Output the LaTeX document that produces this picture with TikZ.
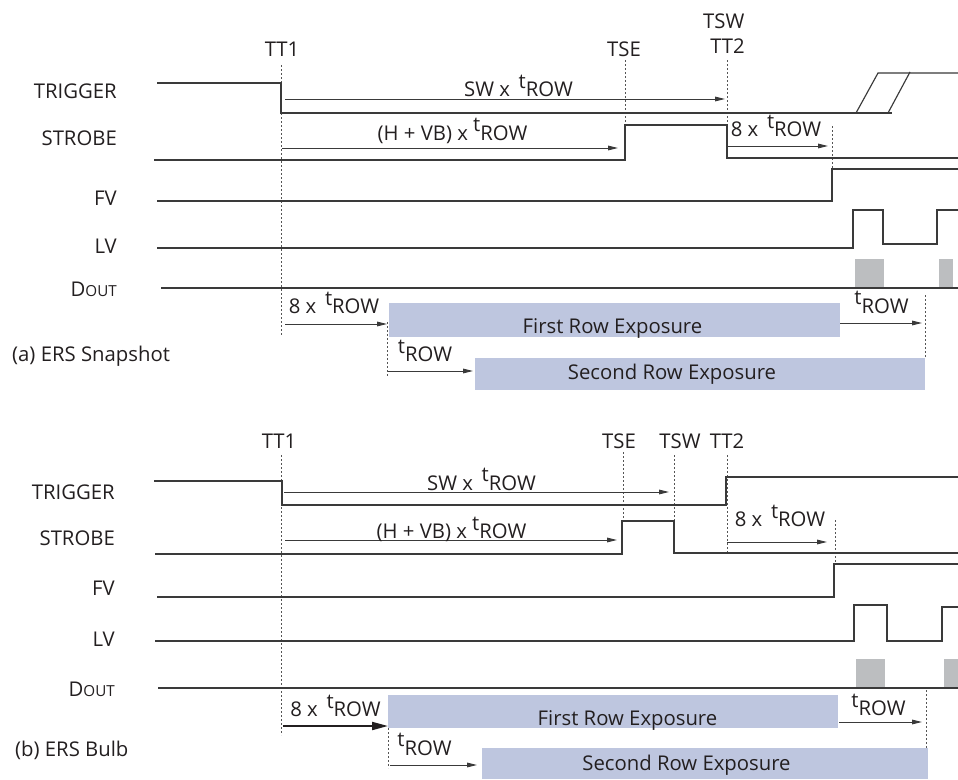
\documentclass[tikz,border=0pt]{standalone}
\usepackage{fontspec}
\setmainfont{Open Sans}
\usetikzlibrary{arrows.meta}
\definecolor{txt}{HTML}{231F20}
\definecolor{linec}{HTML}{3A3A3A}
\definecolor{dashc}{HTML}{555555}
\definecolor{boxfill}{HTML}{BEC6DF}
\definecolor{greyblk}{HTML}{BCBEC0}
\newcommand\lblfont{\fontsize{20.3}{24}\selectfont}
\newcommand\tRowTxt{\raisebox{0.4em}{t}ROW}
\newcommand\DoutTxt{D{\fontsize{15.2}{18}\selectfont OUT}}
\tikzset{
  every node/.style={font=\lblfont, inner sep=0pt, text=txt},
  sig/.style={line width=1.15pt, draw=linec, line join=miter},
  tickline/.style={line width=0.9pt, draw=dashc, dash pattern=on 2pt off 2pt},
  dim/.style={line width=1pt, draw=linec, -{Triangle[length=10pt,width=4.6pt]}},
  dimbold/.style={line width=2pt, draw=txt, -{Triangle[length=16pt,width=8pt]}},
  expbox/.style={fill=boxfill, draw=none},
  dblk/.style={fill=greyblk, draw=none},
  siglbl/.style={anchor=base east},
  tlbl/.style={anchor=base},
}
\begin{document}
\begin{tikzpicture}[x=1pt,y=-1pt]
\useasboundingbox (0,0) rectangle (958,779);
\fill[white] (0,0) rectangle (958,779);

%%%%%%%%%%%% (a) ERS Snapshot %%%%%%%%%%%%
\fill[expbox] (389,303) rectangle (840,337);
\fill[expbox] (475,358) rectangle (925,390);
\fill[dblk] (855,259) rectangle (884,288);
\fill[dblk] (939,259) rectangle (953,288);

\draw[tickline] (281,65) -- (281,335);
\draw[tickline] (625,60) -- (625,125);
\draw[tickline] (727,60) -- (727,158);
\draw[tickline] (832,126) -- (832,175);
\draw[tickline] (387,322) -- (387,377);
\draw[tickline] (925,295) -- (925,358);

\draw[sig] (157,83) -- (281,83) -- (281,113) -- (892,113);
\draw[sig] (856,113) -- (878,73) -- (958,73);
\draw[sig] (888,113) -- (910,72);
\draw[sig] (154,160) -- (625,160) -- (625,125) -- (727,125) -- (727,158) -- (958,158);
\draw[sig] (157,201) -- (832,201) -- (832,169) -- (958,169);
\draw[sig] (157,248) -- (853,248) -- (853,210) -- (883,210) -- (883,244) -- (937,244) -- (937,210) -- (958,210);
\draw[sig] (161,288) -- (958,288);

\draw[dim] (285,99) -- (725,99);
\draw[dim] (282,148) -- (618,148);
\draw[dim] (728,146) -- (828,146);
\draw[dim] (285,324) -- (387,324);
\draw[dim] (388,371) -- (473,371);
\draw[dim] (840,323) -- (922,323);

\node[siglbl] (aTrig) at (117,98.3) {TRIGGER};
\node[siglbl] (aStrobe) at (117,145) {STROBE};
\node[siglbl] (aFV) at (117,205) {FV};
\node[siglbl] (aLV) at (117,253.3) {LV};
\node[siglbl] (aDout) at (117,296.7) {\DoutTxt};
\node[anchor=base west] (aCap) at (12,361.7) {(a) ERS Snapshot};
\node[tlbl] (aTT1) at (282,56.7) {TT1};
\node[tlbl] (aTSE) at (624,56.7) {TSE};
\node[tlbl] (aTSW) at (723.8,28.3) {TSW};
\node[tlbl] (aTT2) at (727.5,53.3) {TT2};
\node[tlbl] (aSW) at (518.5,96.7) {SW x\, \tRowTxt};
\node[tlbl] (aHVB) at (452.5,140) {(H + VB) x \tRowTxt};
\node[tlbl] (a8b) at (776,136.7) {8 x\, \tRowTxt};
\node[tlbl] (a8a) at (334,313.3) {8 x\, \tRowTxt};
\node[tlbl] (aTr) at (881.5,313) {\tRowTxt};
\node[tlbl] (aTl) at (425,361.7) {\tRowTxt};
\node[tlbl] (aFirst) at (612.5,333.3) {First Row Exposure};
\node[tlbl] (aSecond) at (672,379.3) {Second Row Exposure};

%%%%%%%%%%%% (b) ERS Bulb %%%%%%%%%%%%
\fill[expbox] (388,695) rectangle (838,728);
\fill[expbox] (482,748) rectangle (928,779);
\fill[dblk] (856,659) rectangle (885,688);
\fill[dblk] (944,659) rectangle (958,688);

\draw[tickline] (281,455) -- (281,735);
\draw[tickline] (623,452) -- (623,521);
\draw[tickline] (674,455) -- (674,521);
\draw[tickline] (727,455) -- (727,553);
\draw[tickline] (835,520) -- (835,565);
\draw[tickline] (388,728) -- (388,768);
\draw[tickline] (926,690) -- (926,748);

\draw[sig] (154,481) -- (282,481) -- (282,505) -- (726,505) -- (726,477) -- (958,477);
\draw[sig] (155,554) -- (622,554) -- (622,521) -- (674,521) -- (674,553) -- (958,553);
\draw[sig] (157,597) -- (834,597) -- (834,564) -- (958,564);
\draw[sig] (155,641) -- (854,641) -- (854,605) -- (887,605) -- (887,641) -- (942,641) -- (942,607) -- (958,607);
\draw[sig] (158,688) -- (958,688);

\draw[dim] (284,492) -- (669,492);
\draw[dim] (285,540) -- (617,540);
\draw[dim] (727,542) -- (827,542);
\draw[dimbold] (283,726) -- (388,726);
\draw[dim] (390,765) -- (477,765);
\draw[dim] (839,722) -- (922,722);

\node[siglbl] (bTrig) at (115,499.3) {TRIGGER};
\node[siglbl] (bStrobe) at (115,545.6) {STROBE};
\node[siglbl] (bFV) at (115,595.7) {FV};
\node[siglbl] (bLV) at (115,646.7) {LV};
\node[siglbl] (bDout) at (115,696.7) {\DoutTxt};
\node[anchor=base west] (bCap) at (15,756.7) {(b) ERS Bulb};
\node[tlbl] (bTT1) at (279,448.3) {TT1};
\node[tlbl] (bTSE) at (619,448.3) {TSE};
\node[tlbl] (bTSW) at (680,448.3) {TSW};
\node[tlbl] (bTT2) at (727,448.3) {TT2};
\node[tlbl] (bSW) at (481.5,490) {SW x\, \tRowTxt};
\node[tlbl] (bHVB) at (451.5,538.3) {(H + VB) x \tRowTxt};
\node[tlbl] (b8b) at (780,526.7) {8 x\, \tRowTxt};
\node[tlbl] (b8a) at (335.5,716.7) {8 x\, \tRowTxt};
\node[tlbl] (bTr) at (878.5,715.7) {\tRowTxt};
\node[tlbl] (bTl) at (424.5,755) {\tRowTxt};
\node[tlbl] (bFirst) at (627.5,725) {First Row Exposure};
\node[tlbl] (bSecond) at (686.5,770.7) {Second Row Exposure};
\end{tikzpicture}
\end{document}
